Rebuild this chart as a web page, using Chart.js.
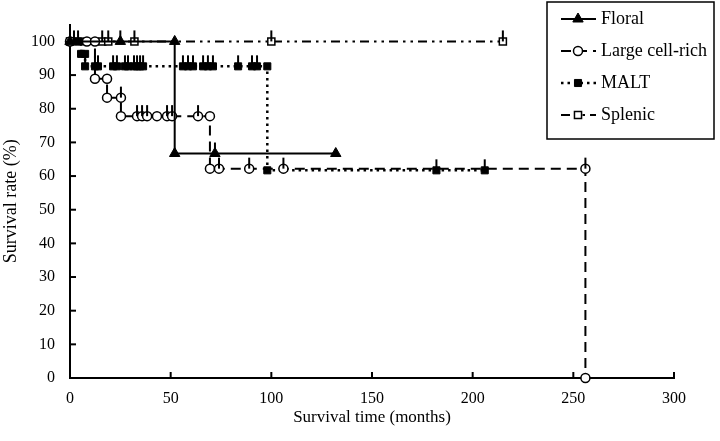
<!DOCTYPE html>
<html>
<head>
<meta charset="utf-8">
<script src="https://cdn.jsdelivr.net/npm/chart.js@4/dist/chart.umd.min.js"></script>
<style>
body { margin: 0; background: #fff; }
</style>
</head>
<body>
<canvas id="survivalChart" width="720" height="441"></canvas>
<script>
// Kaplan-Meier curves (months, %)
var floralTime = [0, 25, 52, 52, 72, 132];
var floralRate = [100, 100, 100, 66.7, 66.7, 66.7];
var floralCensorTime = [25, 72];
var floralCensorRate = [100, 66.7];

var largeTime = [0, 8.4, 12.4, 12.4, 18.4, 18.4, 25.3, 25.3, 33.3, 35.8, 38.3, 43.2, 48.2, 50.7, 63.6, 69.5, 69.5, 74, 89, 106, 256, 256];
var largeRate = [100, 100, 100, 88.9, 88.9, 83.3, 83.3, 77.8, 77.8, 77.8, 77.8, 77.8, 77.8, 77.8, 77.8, 77.8, 62.2, 62.2, 62.2, 62.2, 62.2, 0];
var largeCensorTime = [25.3, 33.3, 35.8, 38.3, 48.2, 50.7, 63.6, 74, 89, 106, 256];
var largeCensorRate = [83.3, 77.8, 77.8, 77.8, 77.8, 77.8, 77.8, 62.2, 62.2, 62.2, 62.2];

var maltTime = [0, 2, 4, 5.5, 5.5, 7.5, 7.5, 12.4, 13.9, 21.4, 23.3, 27.3, 28.8, 31.8, 33.3, 34.8, 36.3, 56.1, 58.6, 61.1, 66.1, 68.5, 71, 83.5, 90.4, 92.9, 98, 98, 182, 206];
var maltRate = [100, 100, 100, 100, 96.3, 96.3, 92.6, 92.6, 92.6, 92.6, 92.6, 92.6, 92.6, 92.6, 92.6, 92.6, 92.6, 92.6, 92.6, 92.6, 92.6, 92.6, 92.6, 92.6, 92.6, 92.6, 92.6, 61.7, 61.7, 61.7];
var maltCensorTime = [2, 4, 7.5, 12.4, 13.9, 21.4, 23.3, 27.3, 28.8, 31.8, 33.3, 34.8, 36.3, 56.1, 58.6, 61.1, 66.1, 68.5, 71, 83.5, 90.4, 92.9, 182, 206];
var maltCensorRate = [100, 100, 92.6, 92.6, 92.6, 92.6, 92.6, 92.6, 92.6, 92.6, 92.6, 92.6, 92.6, 92.6, 92.6, 92.6, 92.6, 92.6, 92.6, 92.6, 92.6, 92.6, 61.7, 61.7];

var splenicTime = [0, 16, 19, 32, 100, 215];
var splenicRate = [100, 100, 100, 100, 100, 100];
var splenicCensorTime = [16, 19, 32, 100, 215];
var splenicCensorRate = [100, 100, 100, 100, 100];

var xTicks = [0, 50, 100, 150, 200, 250, 300];
var yTicks = [0, 10, 20, 30, 40, 50, 60, 70, 80, 90, 100];

var serif = '"Liberation Serif", "Times New Roman", serif';

function toPoints(times, rates) {
    return times.map(function(t, i) {
        return { x: t, y: rates[i] };
    });
}

// ticks pointing into the plot
var inwardTicks = {
    id: 'inwardTicks',
    afterDraw: function(chart) {
        var ctx = chart.ctx;
        var area = chart.chartArea;
        var xs = chart.scales.x, ys = chart.scales.y;
        ctx.save();
        ctx.strokeStyle = '#000';
        ctx.lineWidth = 2;
        xs.ticks.forEach(function(tk) {
            var px = xs.getPixelForValue(tk.value);
            ctx.beginPath();
            ctx.moveTo(px, area.bottom);
            ctx.lineTo(px, area.bottom - 6);
            ctx.stroke();
        });
        ys.ticks.forEach(function(tk) {
            var py = ys.getPixelForValue(tk.value);
            ctx.beginPath();
            ctx.moveTo(area.left, py);
            ctx.lineTo(area.left + 6, py);
            ctx.stroke();
        });
        ctx.restore();
    }
};

// censored cases: small vertical mark on the curve
var censorTicks = {
    id: 'censorTicks',
    afterDatasetsDraw: function(chart) {
        var ctx = chart.ctx;
        var xs = chart.scales.x, ys = chart.scales.y;
        ctx.save();
        ctx.strokeStyle = '#000';
        ctx.lineWidth = 2;
        chart.data.datasets.forEach(function(ds) {
            ds.censorTime.forEach(function(t, i) {
                var px = xs.getPixelForValue(t);
                var py = ys.getPixelForValue(ds.censorRate[i]);
                ctx.beginPath();
                ctx.moveTo(px, py);
                ctx.lineTo(px, py - 11);
                ctx.stroke();
            });
        });
        ctx.restore();
    }
};

var boxLegend = {
    id: 'boxLegend',
    afterDraw: function(chart) {
        var ctx = chart.ctx;
        var left = 547, top = 2, right = 714, bottom = 139;
        ctx.save();
        ctx.fillStyle = '#fff';
        ctx.fillRect(left, top, right - left, bottom - top);
        ctx.strokeStyle = '#000';
        ctx.lineWidth = 1.5;
        ctx.strokeRect(left, top, right - left, bottom - top);
        chart.data.datasets.forEach(function(ds, i) {
            var yy = top + 17 + i * 32;
            ctx.strokeStyle = '#000';
            ctx.lineWidth = ds.borderWidth;
            ctx.setLineDash(ds.borderDash || []);
            ctx.beginPath();
            ctx.moveTo(left + 14, yy);
            ctx.lineTo(left + 49, yy);
            ctx.stroke();
            ctx.setLineDash([]);
            ctx.fillStyle = ds.pointBackgroundColor;
            ctx.strokeStyle = ds.pointBorderColor;
            ctx.lineWidth = ds.pointBorderWidth;
            Chart.helpers.drawPoint(ctx, {
                pointStyle: ds.pointStyle,
                radius: ds.pointRadius,
                borderWidth: ds.pointBorderWidth,
                rotation: 0
            }, left + 31, yy);
            ctx.fillStyle = '#000';
            ctx.font = '18px ' + serif;
            ctx.textBaseline = 'middle';
            ctx.fillText(ds.label, left + 54, yy);
        });
        ctx.restore();
    }
};

new Chart(document.getElementById('survivalChart'), {
    type: 'scatter',
    data: {
        datasets: [{
            label: 'Floral',
            data: toPoints(floralTime, floralRate),
            censorTime: floralCensorTime,
            censorRate: floralCensorRate,
            showLine: true,
            borderColor: '#000',
            borderWidth: 2,
            pointStyle: 'triangle',
            pointRadius: 6,
            pointBorderWidth: 1,
            pointBackgroundColor: '#000',
            pointBorderColor: '#000'
        }, {
            label: 'Large cell-rich',
            data: toPoints(largeTime, largeRate),
            censorTime: largeCensorTime,
            censorRate: largeCensorRate,
            showLine: true,
            borderColor: '#000',
            borderWidth: 2,
            borderDash: [10, 6],
            pointStyle: 'circle',
            pointRadius: 4.5,
            pointBorderWidth: 1.5,
            pointBackgroundColor: '#fff',
            pointBorderColor: '#000'
        }, {
            label: 'MALT',
            data: toPoints(maltTime, maltRate),
            censorTime: maltCensorTime,
            censorRate: maltCensorRate,
            showLine: true,
            borderColor: '#000',
            borderWidth: 2.5,
            borderDash: [2.5, 4],
            pointStyle: 'rect',
            pointRadius: 5,
            pointBorderWidth: 1,
            pointBackgroundColor: '#000',
            pointBorderColor: '#000'
        }, {
            label: 'Splenic',
            data: toPoints(splenicTime, splenicRate),
            censorTime: splenicCensorTime,
            censorRate: splenicCensorRate,
            showLine: true,
            borderColor: '#000',
            borderWidth: 2,
            borderDash: [9, 5, 2.5, 5, 2.5, 5],
            pointStyle: 'rect',
            pointRadius: 5,
            pointBorderWidth: 1.5,
            pointBackgroundColor: '#fff',
            pointBorderColor: '#000'
        }]
    },
    options: {
        responsive: false,
        animation: false,
        devicePixelRatio: 1,
        clip: false,
        layout: { padding: { left: 0, right: 46, top: 0, bottom: 0 }, autoPadding: false },
        plugins: { legend: { display: false }, tooltip: { enabled: false } },
        scales: {
            x: {
                type: 'linear',
                min: 0,
                max: 300,
                afterBuildTicks: function(s) {
                    s.ticks = xTicks.map(function(v) { return { value: v }; });
                },
                ticks: { color: '#000', font: { family: serif, size: 16 }, padding: 11, maxRotation: 0 },
                grid: { display: false, drawTicks: false },
                border: { display: true, color: '#000', width: 2 },
                title: {
                    display: true,
                    text: 'Survival time (months)',
                    color: '#000',
                    font: { family: serif, size: 17 },
                    padding: { top: 0, bottom: 13 }
                },
                afterFit: function(s) { s.height = 63; }
            },
            y: {
                type: 'linear',
                min: 0,
                max: 105,
                afterBuildTicks: function(s) {
                    s.ticks = yTicks.map(function(v) { return { value: v }; });
                },
                ticks: { color: '#000', font: { family: serif, size: 16 }, padding: 15 },
                grid: { display: false, drawTicks: false },
                border: { display: true, color: '#000', width: 2 },
                title: {
                    display: true,
                    text: 'Survival rate (%)',
                    color: '#000',
                    font: { family: serif, size: 18 },
                    padding: { top: 0, bottom: 0 }
                },
                afterFit: function(s) { s.width = 70; }
            }
        }
    },
    plugins: [inwardTicks, censorTicks, boxLegend]
});
</script>
</body>
</html>
